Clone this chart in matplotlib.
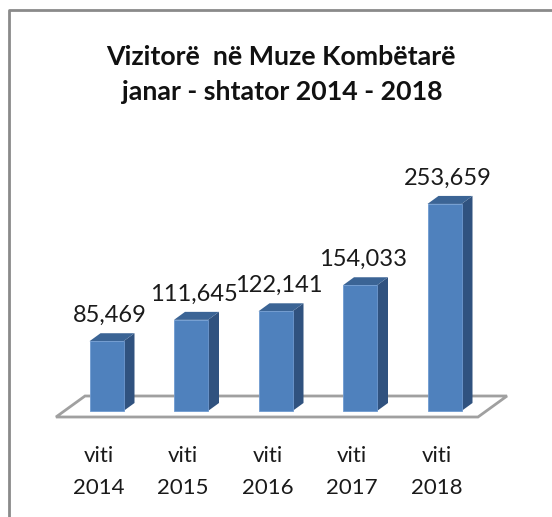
import matplotlib
matplotlib.use("Agg")
import matplotlib.pyplot as plt
from matplotlib.patches import Polygon

plt.rcParams['font.family'] = ['Lato', 'DejaVu Sans']

years = ['2014', '2015', '2016', '2017', '2018']
visitors = [85469, 111645, 122141, 154033, 253659]
value_labels = ['85,469', '111,645', '122,141', '154,033', '253,659']
title_lines = 'Vizitorë  në Muze Kombëtarë\njanar - shtator 2014 - 2018'

W, H = 552, 517
# one category step = 84.5 px, one px of height = 1225 visitors
STEP = 84.5
PER_PX = 1225.0
X0, Y0 = 106.5, 411.0


def dx(px):
    return px / STEP


def dy(px):
    return px * PER_PX


fig = plt.figure(figsize=(W / 100, H / 100), dpi=100)
ax = fig.add_axes([0, 0, 1, 1])
ax.set_xlim(-X0 / STEP, (W - X0) / STEP)
ax.set_ylim(-(H - Y0) * PER_PX, Y0 * PER_PX)
ax.axis('off')

# chart frame, only left and top are inside the picture
fig.add_artist(plt.Line2D([8.7 / W, 8.7 / W, 1],
                          [0, 1 - 10.3 / H, 1 - 10.3 / H],
                          color='#8a8a8a', lw=2))

# floor of the 3d chart
x_left, x_right = dx(56 - X0), dx(478 - X0)
y_front, y_back = dy(-6), dy(15)
ax.add_patch(Polygon([(x_left, y_front), (x_left + dx(29), y_back),
                      (x_right + dx(29), y_back), (x_right, y_front)],
                     closed=True, fc='white', ec='#a0a0a0', lw=2, zorder=1))

bar_w = dx(34)
depth_x, depth_y = dx(11), dy(8)
for i, v in enumerate(visitors):
    l, r = i - bar_w / 2, i + bar_w / 2
    ax.bar(i, v, width=bar_w, color='#4f81bd', ec='#6f9ad0', lw=0.6, zorder=3)
    ax.add_patch(Polygon([(r, 0), (r + depth_x, depth_y), (r + depth_x, v + depth_y), (r, v)],
                         closed=True, fc='#30527f', ec='none', zorder=2))
    ax.add_patch(Polygon([(l, v), (l + depth_x, v + depth_y), (r + depth_x, v + depth_y), (r, v)],
                         closed=True, fc='#3b6495', ec='none', zorder=2))
    ax.text(i + dx(3), v + dy(19), value_labels[i], ha='center', va='baseline',
            fontsize=17, color='#1a1a1a', zorder=4)
    ax.text(i - dx(8), dy(-51), 'viti', ha='center', va='baseline',
            fontsize=16, color='#1a1a1a')
    ax.text(i - dx(8), dy(-83), years[i], ha='center', va='baseline',
            fontsize=16, color='#1a1a1a')

line1, line2 = title_lines.split('\n')
ax.text(dx(280.5 - X0), dy(Y0 - 65), line1, ha='center', va='baseline',
        fontsize=19.3, fontweight='bold', color='#111111')
ax.text(dx(282.5 - X0), dy(Y0 - 100), line2, ha='center', va='baseline',
        fontsize=19.3, fontweight='bold', color='#111111')

fig.savefig('out.png', dpi=100)
